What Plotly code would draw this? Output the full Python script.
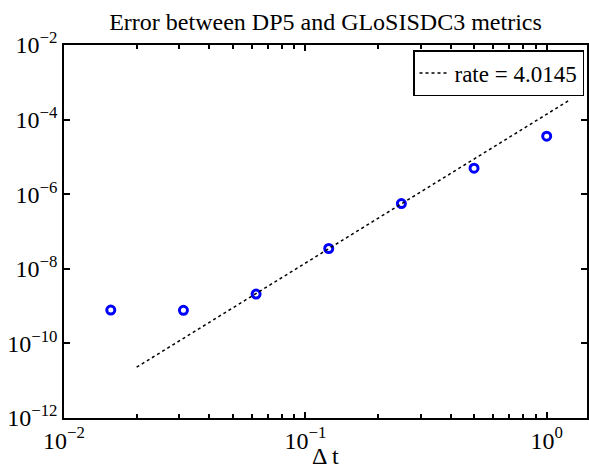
import plotly.graph_objects as go

# ---- data ----
dt = [1/64, 1/32, 1/16, 1/8, 1/4, 1/2, 1.0]
err = [7.8e-10, 7.7e-10, 2.1e-9, 3.5e-8, 5.6e-7, 5.0e-6, 3.6e-5]

rate_label = "rate = 4.0145"
rate_x = [0.02, 1.25]
rate_y = [2.3e-11, 3.4e-4]

x_tickvals = [1e-2, 1e-1, 1e0]
x_ticktext = ["10<sup>\u22122</sup>", "10<sup>\u22121</sup>", "10<sup>0</sup>"]
y_tickvals = [1e-12, 1e-10, 1e-8, 1e-6, 1e-4, 1e-2]
y_ticktext = ["10<sup>\u221212</sup>", "10<sup>\u221210</sup>", "10<sup>\u22128</sup>",
              "10<sup>\u22126</sup>", "10<sup>\u22124</sup>", "10<sup>\u22122</sup>"]

title_text = "Error between DP5 and GLoSISDC3 metrics"
xlabel = "\u0394 t"

minor_x = [m * d for d in (1e-2, 1e-1) for m in range(2, 10)]

FONT = "Liberation Serif, Times New Roman, serif"

fig = go.Figure()
fig.add_trace(go.Scatter(
    x=dt, y=err, mode="markers", showlegend=False,
    marker=dict(symbol="circle-open", size=8, color="#0000ff",
                line=dict(width=3, color="#0000ff")),
))
fig.add_trace(go.Scatter(
    x=rate_x, y=rate_y, mode="lines", name=rate_label,
    line=dict(color="black", width=1.5, dash="dot"),
))

axis_common = dict(
    showgrid=False, zeroline=False, showline=True, linecolor="#000000",
    linewidth=1.5, mirror="ticks", ticks="inside", tickcolor="#000000",
    ticklen=6, tickwidth=2, layer="above traces",
    tickfont=dict(family=FONT, size=24, color="black"),
)

fig.update_xaxes(type="log", range=[-2, 0.167], tickmode="array",
                 tickvals=x_tickvals, ticktext=x_ticktext,
                 minor=dict(ticks="inside", ticklen=4, tickcolor="#000000",
                            tickwidth=2, tickvals=minor_x, showgrid=False),
                 **axis_common)
fig.update_yaxes(type="log", range=[-12, -2], tickmode="array",
                 tickvals=y_tickvals, ticktext=y_ticktext, **axis_common)

fig.update_layout(
    width=589, height=472,
    margin=dict(l=64, r=2, t=45, b=54, autoexpand=False),
    paper_bgcolor="white", plot_bgcolor="white",
    font=dict(family=FONT, size=24, color="black"),
    title=dict(text=title_text, x=325.5/589, xanchor="center",
               y=1 - 22/472, yanchor="middle",
               font=dict(family=FONT, size=24, color="black")),
    legend=dict(x=(584-64)/523, xanchor="right", y=(418-50)/373, yanchor="top",
                bordercolor="black", borderwidth=1.5, bgcolor="white",
                font=dict(family=FONT, size=23, color="black"),
                itemwidth=30, tracegroupgap=0, valign="middle"),
    annotations=[dict(text=xlabel, xref="paper", yref="paper", x=0.5,
                      y=(418-456)/373, yanchor="middle", showarrow=False,
                      font=dict(family=FONT, size=24, color="black"))],
)

fig.write_html("out.html", config={"displayModeBar": False},
               post_script="document.body.style.margin='0';document.body.style.padding='0';")
